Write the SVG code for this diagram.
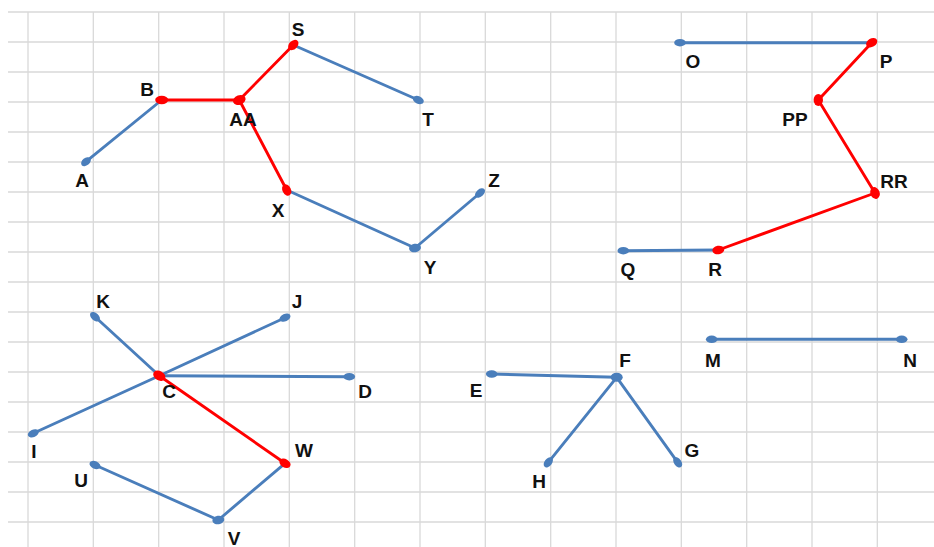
<svg xmlns="http://www.w3.org/2000/svg" width="934" height="547" viewBox="0 0 934 547">
<style>
.grid line{stroke:#d9d9d9;stroke-width:1.3}
.e{stroke-width:2.9;stroke-linecap:round;fill:none}
.b{stroke:#4a7ebb}
.r{stroke:#ff0000}
.nb{fill:#4a7ebb}
.nr{fill:#ff0000}
text{font-family:"Liberation Sans",Arial,sans-serif;font-weight:bold;font-size:19px;fill:#111;text-anchor:middle}
</style>
<rect width="934" height="547" fill="#fff"/>
<g class="grid">
<line x1="8" y1="12" x2="934" y2="12"/><line x1="8" y1="42" x2="934" y2="42"/><line x1="8" y1="72" x2="934" y2="72"/><line x1="8" y1="102" x2="934" y2="102"/><line x1="8" y1="132" x2="934" y2="132"/><line x1="8" y1="162" x2="934" y2="162"/><line x1="8" y1="192" x2="934" y2="192"/><line x1="8" y1="222" x2="934" y2="222"/><line x1="8" y1="252" x2="934" y2="252"/><line x1="8" y1="282" x2="934" y2="282"/><line x1="8" y1="312" x2="934" y2="312"/><line x1="8" y1="342" x2="934" y2="342"/><line x1="8" y1="372" x2="934" y2="372"/><line x1="8" y1="402" x2="934" y2="402"/><line x1="8" y1="432" x2="934" y2="432"/><line x1="8" y1="462" x2="934" y2="462"/><line x1="8" y1="492" x2="934" y2="492"/><line x1="8" y1="522" x2="934" y2="522"/>
<line x1="28" y1="12" x2="28" y2="547"/><line x1="93.3" y1="12" x2="93.3" y2="547"/><line x1="158.7" y1="12" x2="158.7" y2="547"/><line x1="224" y1="12" x2="224" y2="547"/><line x1="289.3" y1="12" x2="289.3" y2="547"/><line x1="354.7" y1="12" x2="354.7" y2="547"/><line x1="420" y1="12" x2="420" y2="547"/><line x1="485.3" y1="12" x2="485.3" y2="547"/><line x1="550.7" y1="12" x2="550.7" y2="547"/><line x1="616" y1="12" x2="616" y2="547"/><line x1="681.3" y1="12" x2="681.3" y2="547"/><line x1="746.7" y1="12" x2="746.7" y2="547"/><line x1="812" y1="12" x2="812" y2="547"/><line x1="877.3" y1="12" x2="877.3" y2="547"/>
</g>
<g id="connectors">
<line class="e b" x1="86" y1="161.7" x2="161.7" y2="100"/>
<line class="e b" x1="293.3" y1="45" x2="418.3" y2="100"/>
<line class="e b" x1="286.7" y1="190" x2="415" y2="248"/>
<line class="e b" x1="415" y1="248" x2="480" y2="193"/>
<line class="e b" x1="680" y1="42.7" x2="871.7" y2="42.7"/>
<line class="e b" x1="623.3" y1="250.7" x2="718.3" y2="250"/>
<line class="e b" x1="95" y1="316.7" x2="159.3" y2="375.7"/>
<line class="e b" x1="285" y1="317.7" x2="159.3" y2="375.7"/>
<line class="e b" x1="159.3" y1="375.7" x2="349.3" y2="376.7"/>
<line class="e b" x1="159.3" y1="375.7" x2="33.3" y2="433.3"/>
<line class="e b" x1="95" y1="465" x2="218.3" y2="520"/>
<line class="e b" x1="218.3" y1="520" x2="285" y2="463.3"/>
<line class="e b" x1="491.7" y1="374" x2="616.7" y2="377.3"/>
<line class="e b" x1="616.7" y1="377.3" x2="548.3" y2="462.3"/>
<line class="e b" x1="616.7" y1="377.3" x2="677.7" y2="462.3"/>
<line class="e b" x1="711.7" y1="339.3" x2="901.7" y2="339.3"/>
<line class="e r" x1="161.7" y1="100" x2="239.3" y2="100"/>
<line class="e r" x1="239.3" y1="100" x2="293.3" y2="45"/>
<line class="e r" x1="239.3" y1="100" x2="286.7" y2="190"/>
<line class="e r" x1="871.7" y1="42.7" x2="818.3" y2="100"/>
<line class="e r" x1="818.3" y1="100" x2="875" y2="193"/>
<line class="e r" x1="875" y1="193" x2="718.3" y2="250"/>
<line class="e r" x1="159.3" y1="375.7" x2="285" y2="463.3"/>
</g>
<g id="A"><ellipse class="nb" cx="86" cy="161.7" rx="5.5" ry="3.7" transform="rotate(-39 86 161.7)"/><text x="82" y="187">A</text></g>
<g id="B"><ellipse class="nr" cx="161.7" cy="100" rx="6.5" ry="4.2" /><text x="147" y="96">B</text></g>
<g id="AA"><ellipse class="nr" cx="239.3" cy="100" rx="6.5" ry="4.7" transform="rotate(-20 239.3 100)"/><text x="243" y="126">AA</text></g>
<g id="S"><ellipse class="nr" cx="293.3" cy="45" rx="6" ry="4.2" transform="rotate(-45 293.3 45)"/><text x="298" y="36">S</text></g>
<g id="X"><ellipse class="nr" cx="286.7" cy="190" rx="6" ry="4.2" transform="rotate(62 286.7 190)"/><text x="278" y="217">X</text></g>
<g id="T"><ellipse class="nb" cx="418.3" cy="100" rx="5.8" ry="3.7" transform="rotate(24 418.3 100)"/><text x="428" y="126">T</text></g>
<g id="Y"><ellipse class="nb" cx="415" cy="248" rx="6" ry="4.2" transform="rotate(-10 415 248)"/><text x="430" y="274">Y</text></g>
<g id="Z"><ellipse class="nb" cx="480" cy="193" rx="5.8" ry="3.7" transform="rotate(-40 480 193)"/><text x="494" y="187">Z</text></g>
<g id="O"><ellipse class="nb" cx="680" cy="42.7" rx="5.8" ry="3.7"/><text x="693" y="68">O</text></g>
<g id="P"><ellipse class="nr" cx="871.7" cy="42.7" rx="6" ry="4.2" transform="rotate(-30 871.7 42.7)"/><text x="886" y="68">P</text></g>
<g id="PP"><ellipse class="nr" cx="818.3" cy="100" rx="6" ry="4.7" transform="rotate(90 818.3 100)"/><text x="795" y="126">PP</text></g>
<g id="RR"><ellipse class="nr" cx="875" cy="193" rx="6" ry="4.7" transform="rotate(70 875 193)"/><text x="894" y="188">RR</text></g>
<g id="R"><ellipse class="nr" cx="718.3" cy="250" rx="6" ry="4.2" transform="rotate(-10 718.3 250)"/><text x="715" y="276">R</text></g>
<g id="Q"><ellipse class="nb" cx="623.3" cy="250.7" rx="5.8" ry="3.7"/><text x="628" y="276">Q</text></g>
<g id="K"><ellipse class="nb" cx="95" cy="316.7" rx="5.8" ry="3.7" transform="rotate(42 95 316.7)"/><text x="103" y="308">K</text></g>
<g id="J"><ellipse class="nb" cx="285" cy="317.7" rx="5.8" ry="3.7" transform="rotate(-25 285 317.7)"/><text x="297" y="308">J</text></g>
<g id="C"><ellipse class="nr" cx="159.3" cy="375.7" rx="6.5" ry="4.7" transform="rotate(30 159.3 375.7)"/><text x="169" y="398">C</text></g>
<g id="D"><ellipse class="nb" cx="349.3" cy="376.7" rx="5.8" ry="3.7"/><text x="365" y="398">D</text></g>
<g id="I"><ellipse class="nb" cx="33.3" cy="433.3" rx="5.8" ry="3.7" transform="rotate(-25 33.3 433.3)"/><text x="34" y="458">I</text></g>
<g id="W"><ellipse class="nr" cx="285" cy="463.3" rx="6" ry="4.2" transform="rotate(30 285 463.3)"/><text x="304" y="457">W</text></g>
<g id="U"><ellipse class="nb" cx="95" cy="465" rx="5.8" ry="3.7" transform="rotate(24 95 465)"/><text x="81" y="487">U</text></g>
<g id="V"><ellipse class="nb" cx="218.3" cy="520" rx="6" ry="4.2" transform="rotate(-10 218.3 520)"/><text x="234" y="545">V</text></g>
<g id="E"><ellipse class="nb" cx="491.7" cy="374" rx="5.8" ry="3.7" transform="rotate(2 491.7 374)"/><text x="476" y="397">E</text></g>
<g id="F"><ellipse class="nb" cx="616.7" cy="377.3" rx="6" ry="4.5"/><text x="625" y="367">F</text></g>
<g id="H"><ellipse class="nb" cx="548.3" cy="462.3" rx="5.8" ry="3.7" transform="rotate(129 548.3 462.3)"/><text x="539" y="488">H</text></g>
<g id="G"><ellipse class="nb" cx="677.7" cy="462.3" rx="5.8" ry="3.7" transform="rotate(54 677.7 462.3)"/><text x="692" y="457">G</text></g>
<g id="M"><ellipse class="nb" cx="711.7" cy="339.3" rx="5.8" ry="3.7"/><text x="713" y="367">M</text></g>
<g id="N"><ellipse class="nb" cx="901.7" cy="339.3" rx="5.8" ry="3.7"/><text x="910" y="367">N</text></g>
</svg>
